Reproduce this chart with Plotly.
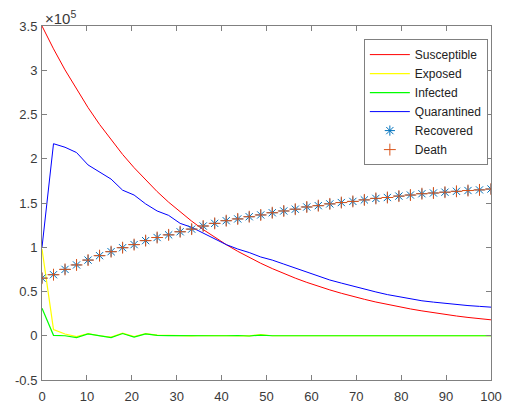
import plotly.graph_objects as go

# time grid (40 output points between 0 and 100)
n_pts = 40
t = [100 * k / (n_pts - 1) for k in range(n_pts)]

# values in units of 1e5
susceptible = [3.5, 3.242, 3.004, 2.783, 2.578, 2.388, 2.212, 2.049, 1.899, 1.759,
               1.629, 1.509, 1.398, 1.295, 1.200, 1.112, 1.030, 0.954, 0.884, 0.819,
               0.759, 0.703, 0.651, 0.603, 0.559, 0.518, 0.480, 0.444, 0.412, 0.381,
               0.353, 0.327, 0.303, 0.281, 0.260, 0.241, 0.223, 0.207, 0.192, 0.180]
exposed = [0.98, 0.07, 0.02, -0.01, 0.025, 0.0, -0.015, 0.03, -0.01, 0.025,
           0.008, 0.002, 0.0, -0.002, 0.003, 0.0, 0.0, 0.0, -0.002, 0.012,
           0.0, 0.0, 0.0, 0.0, 0.0, 0.0, 0.0, 0.0, 0.0, 0.0,
           0.0, 0.0, 0.0, 0.0, 0.0, 0.0, 0.0, 0.0, 0.0, 0.0]
infected = [0.31, 0.005, 0.0, -0.02, 0.02, 0.0, -0.02, 0.025, -0.015, 0.02,
            0.005, 0.002, 0.0, -0.003, 0.003, 0.0, 0.0, 0.003, -0.003, 0.008,
            0.0, 0.0, 0.0, 0.0, 0.0, 0.0, 0.0, 0.0, 0.0, 0.0,
            0.0, 0.0, 0.0, 0.0, 0.0, 0.0, 0.0, 0.0, 0.0, 0.0]
quarantined = [1.0, 2.17, 2.13, 2.07, 1.93, 1.85, 1.77, 1.645, 1.59, 1.49,
               1.41, 1.36, 1.27, 1.225, 1.16, 1.09, 1.03, 0.98, 0.94, 0.89,
               0.855, 0.81, 0.765, 0.715, 0.67, 0.63, 0.595, 0.56, 0.525, 0.495,
               0.465, 0.44, 0.412, 0.395, 0.38, 0.365, 0.352, 0.341, 0.332, 0.323]
recovered = [0.651, 0.69, 0.75, 0.80, 0.855, 0.905, 0.95, 0.995, 1.03, 1.075,
             1.11, 1.14, 1.175, 1.205, 1.24, 1.27, 1.30, 1.32, 1.345, 1.365,
             1.39, 1.41, 1.43, 1.455, 1.47, 1.49, 1.505, 1.518, 1.535, 1.552,
             1.562, 1.578, 1.59, 1.605, 1.613, 1.622, 1.632, 1.641, 1.648, 1.658]
death = list(recovered)

x_ticks = [0, 10, 20, 30, 40, 50, 60, 70, 80, 90, 100]
y_ticks = [-0.5, 0, 0.5, 1, 1.5, 2, 2.5, 3, 3.5]
y_ticklabels = ["-0.5", "0", "0.5", "1", "1.5", "2", "2.5", "3", "3.5"]

fig = go.Figure()
fig.add_trace(go.Scatter(x=t, y=susceptible, mode="lines", name="Susceptible",
                         line=dict(color="#FF0000", width=1)))
fig.add_trace(go.Scatter(x=t, y=exposed, mode="lines", name="Exposed",
                         line=dict(color="#FFFF00", width=1.2)))
fig.add_trace(go.Scatter(x=t, y=infected, mode="lines", name="Infected",
                         line=dict(color="#00FF00", width=1.2)))
fig.add_trace(go.Scatter(x=t, y=quarantined, mode="lines", name="Quarantined",
                         line=dict(color="#0000FF", width=1)))
fig.add_trace(go.Scatter(x=t, y=recovered, mode="markers", name="Recovered",
                         marker=dict(symbol="asterisk-open", size=8.5, color="#0072BD",
                                     line=dict(color="#0072BD", width=1))))
fig.add_trace(go.Scatter(x=t, y=death, mode="markers", name="Death",
                         marker=dict(symbol="cross-thin-open", size=8.5, color="#D95319",
                                     line=dict(color="#D95319", width=1))))

axis_common = dict(showgrid=False, zeroline=False, showline=True, linecolor="#808080",
                   linewidth=1, mirror="ticks", ticks="inside", ticklen=5,
                   automargin=False,
                   tickcolor="#808080", tickfont=dict(family="Liberation Sans, Arial",
                                                      size=13, color="#3a3a3a"))

fig.update_layout(
    width=514, height=408,
    margin=dict(l=42, r=23, t=26, b=28),
    paper_bgcolor="white", plot_bgcolor="white",
    xaxis=dict(range=[0, 100], tickvals=x_ticks, ticklabelstandoff=4, **axis_common),
    yaxis=dict(range=[-0.5, 3.5], tickvals=y_ticks, ticktext=y_ticklabels,
               ticklabelstandoff=1, **axis_common),
    legend=dict(x=0.993, y=0.963, xanchor="right", yanchor="top",
                bgcolor="white", bordercolor="#808080", borderwidth=1,
                font=dict(family="Liberation Sans, Arial", size=12, color="#222222"),
                itemwidth=40, tracegroupgap=0),
    annotations=[dict(xref="paper", yref="paper", x=0, y=1, xanchor="left", yanchor="bottom",
                      text="×10<sup>5</sup>", showarrow=False, yshift=-3, xshift=1,
                      font=dict(family="Liberation Sans, Arial", size=15, color="#3a3a3a"))],
    showlegend=True,
)

fig.write_html("out.html")
